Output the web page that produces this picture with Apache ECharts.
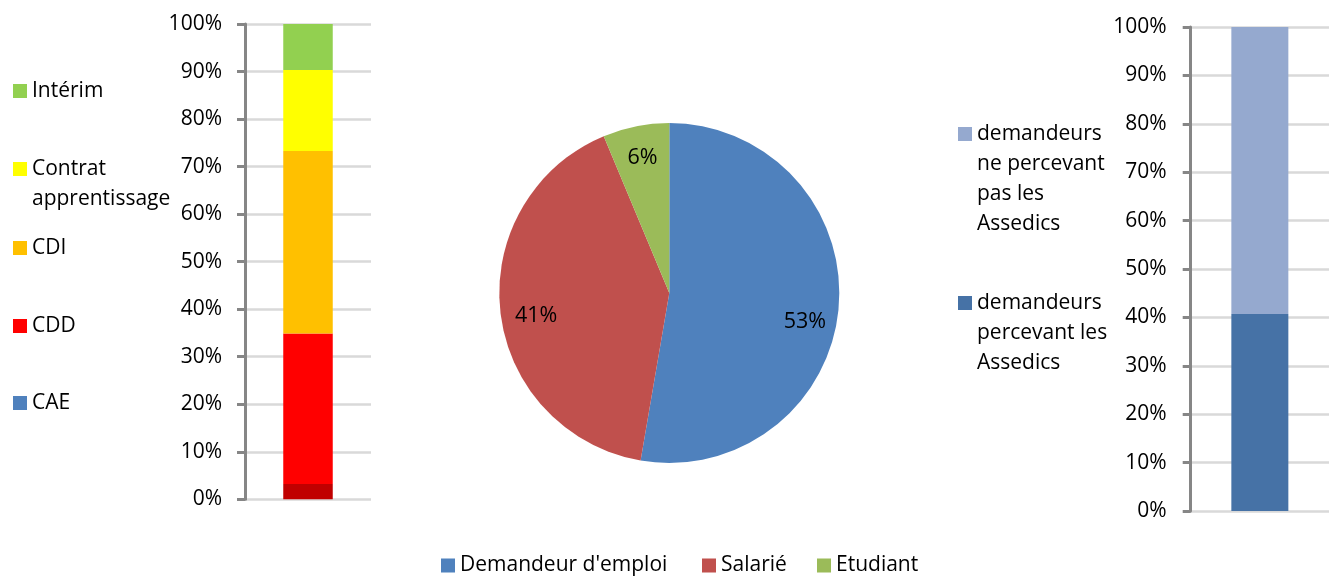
<!DOCTYPE html>
<html><head><meta charset="utf-8">
<script src="https://cdn.jsdelivr.net/npm/echarts@6/dist/echarts.min.js"></script>
<style>html,body{margin:0;padding:0;background:#fff}#c{width:1329px;height:578px}</style>
</head><body><div id="c"></div>
<script>
// ---- data ----
const contractNames = ['CAE', 'CDD', 'CDI', 'Contrat apprentissage', 'Intérim'];
const contractValues = [3.2, 31.7, 38.4, 17.0, 9.7];
const contractLegendText = ['CAE', 'CDD', 'CDI', 'Contrat\napprentissage', 'Intérim'];

const statusNames = ["Demandeur d'emploi", 'Salarié', 'Etudiant'];
const statusValues = [52.7, 41.0, 6.3];

const assedicsNames = ['demandeurs percevant les Assedics', 'demandeurs ne percevant pas les Assedics'];
const assedicsValues = [40.7, 59.3];
const assedicsLegendText = ['demandeurs\npercevant les\nAssedics', 'demandeurs\nne percevant\npas les\nAssedics'];

const percentMin = 0, percentMax = 100, percentStep = 10;

// ---- styles ----
const FONT = 'Open Sans';
const contractColors = ['#4F81BD', '#FF0000', '#FFC000', '#FFFF00', '#92D050'];
const caeBarColor = '#C00000';
const statusColors = ['#4F81BD', '#C0504D', '#9BBB59'];
const statusLabelOffsets = [[0, 17], [2, 8], [0, -2]];
const assedicsColors = ['#4672A6', '#95A9CF'];

function iconPath(lines) {
  const h = 30 * lines;
  return 'path://M0,0h0.01v0.01h-0.01Z M0,8h14v14h-14Z M13.99,' + (h - 0.01) + 'h0.01v0.01h-0.01Z';
}
function mkLegend(name, text, left, firstLineCenter, fontSize) {
  const lines = text.split('\n').length;
  return {
    show: true, orient: 'vertical', left: left, top: firstLineCenter - 15, padding: 0,
    itemWidth: 14, itemHeight: 30 * lines, itemGap: 0, icon: iconPath(lines),
    selectedMode: false, data: [name], formatter: function () { return text; },
    textStyle: { fontFamily: FONT, fontSize: fontSize, color: '#000', lineHeight: 30 }
  };
}

function valueAxis(gridIndex, margin) {
  return {
    type: 'value', gridIndex: gridIndex, min: percentMin, max: percentMax, interval: percentStep,
    axisLine: { show: true, lineStyle: { color: '#868686', width: 3 } },
    axisTick: { show: true, length: 8, lineStyle: { color: '#868686', width: 3 } },
    axisLabel: { formatter: '{value}%', fontFamily: FONT, fontSize: 21, color: '#000', margin: margin },
    splitLine: { show: true, lineStyle: { color: '#D9D9D9', width: 2.5 } }
  };
}
function catAxis(gridIndex) {
  return { type: 'category', gridIndex: gridIndex, data: [''], show: false };
}

const leftCenters = [403, 326, 248, 169, 91];
const legends = [];
contractNames.forEach(function (n, i) {
  legends.push(mkLegend(n, contractLegendText[i], 13, leftCenters[i], 21));
});
const rightCenters = [303, 134];
assedicsNames.forEach(function (n, i) {
  legends.push(mkLegend(n, assedicsLegendText[i], 958, rightCenters[i], 21));
});
const bottomLefts = [441, 702, 817];
statusNames.forEach(function (n, i) {
  legends.push(mkLegend(n, n, bottomLefts[i], 565.5, 21));
});

const series = [];
contractNames.forEach(function (n, i) {
  series.push({
    type: 'bar', name: n, stack: 'contract', xAxisIndex: 0, yAxisIndex: 0, barWidth: 49.5,
    itemStyle: { color: contractColors[i] },
    data: [i === 0 ? { value: contractValues[i], itemStyle: { color: caeBarColor } } : contractValues[i]],
    emphasis: { disabled: true }
  });
});
assedicsNames.forEach(function (n, i) {
  series.push({
    type: 'bar', name: n, stack: 'assedics', xAxisIndex: 1, yAxisIndex: 1, barWidth: 57,
    itemStyle: { color: assedicsColors[i] },
    data: [assedicsValues[i]],
    emphasis: { disabled: true }
  });
});
const pieData = statusNames.map(function (n, i) {
  return { name: n, value: statusValues[i], itemStyle: { color: statusColors[i] } };
});
series.push({
  type: 'pie', name: 'status', center: [669.3, 293], radius: 170, startAngle: 90, clockwise: true,
  label: { show: false }, labelLine: { show: false }, itemStyle: { borderWidth: 0 },
  emphasis: { disabled: true }, data: pieData
});
series.push({
  type: 'pie', name: 'statusLabels', center: [669.3, 293], radius: [96, 170], startAngle: 90, clockwise: true,
  silent: true, itemStyle: { color: 'rgba(0,0,0,0)', borderWidth: 0 }, labelLine: { show: false },
  label: { show: true, position: 'inside', fontFamily: FONT, fontSize: 21.5, color: '#000',
    formatter: function (p) { return Math.round(p.percent) + '%'; } },
  emphasis: { disabled: true },
  data: statusNames.map(function (n, i) {
    return { name: n, value: statusValues[i], label: { offset: statusLabelOffsets[i] } };
  })
});

const option = {
  animation: false,
  backgroundColor: '#fff',
  legend: legends,
  grid: [
    { left: 245, top: 24, width: 126, height: 475.3, containLabel: false },
    { left: 1190.7, top: 27, width: 141.6, height: 484, containLabel: false }
  ],
  xAxis: [catAxis(0), catAxis(1)],
  yAxis: [valueAxis(0, 23), valueAxis(1, 24)],
  series: series
};
const chart = echarts.init(document.getElementById('c'), null, { renderer: 'canvas' });
chart.setOption(option);
</script>
</body></html>
